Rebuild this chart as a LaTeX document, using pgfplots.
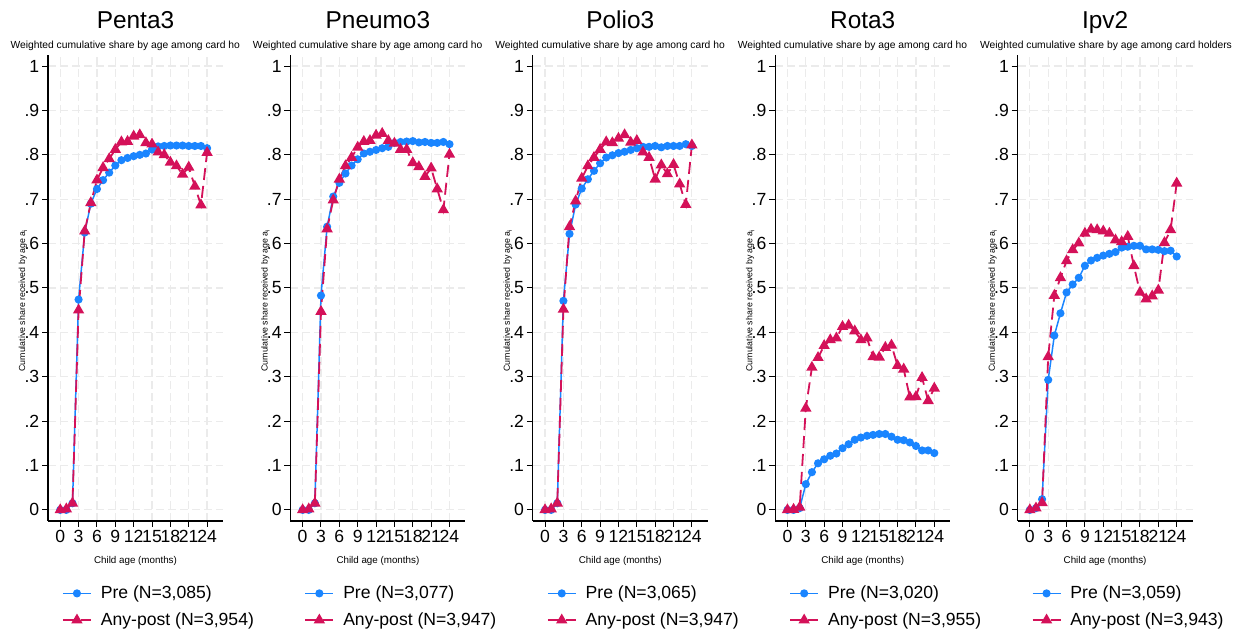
\documentclass[border=0pt]{standalone}
\usepackage{fontspec}
\setmainfont{Liberation Sans}
\usepackage{pgfplots}
\pgfplotsset{compat=1.18}
\usepackage{pgfplotstable}
\definecolor{cpre}{HTML}{1A85FF}
\definecolor{cpost}{HTML}{D41159}
\definecolor{gridc}{HTML}{EBEBEB}
\newcommand\titsz{\fontsize{12.2}{14}\selectfont}
\newcommand\subsz{\fontsize{5.15}{6}\selectfont}
\newcommand\ticksz{\fontsize{8.8}{10}\selectfont}
\newcommand\axlab{\fontsize{4.9}{6}\selectfont}
\newcommand\ylab{\fontsize{4.4}{5}\selectfont}
\newcommand\legsz{\fontsize{8.8}{10}\selectfont}

\pgfplotstableread{
m pre post
0 0 0
1 0 0.002
2 0.015 0.015
3 0.474 0.450
4 0.625 0.628
5 0.690 0.692
6 0.723 0.743
7 0.743 0.771
8 0.760 0.791
9 0.776 0.812
10 0.788 0.829
11 0.793 0.830
12 0.797 0.842
13 0.800 0.845
14 0.803 0.827
15 0.812 0.824
16 0.819 0.806
17 0.820 0.800
18 0.821 0.783
19 0.821 0.775
20 0.821 0.756
21 0.820 0.772
22 0.820 0.729
23 0.820 0.687
24 0.815 0.805
}\penta

\pgfplotstableread{
m pre post
0 0 0
1 0 0.002
2 0.015 0.015
3 0.483 0.447
4 0.638 0.633
5 0.706 0.698
6 0.737 0.745
7 0.758 0.775
8 0.776 0.794
9 0.790 0.817
10 0.803 0.830
11 0.807 0.832
12 0.811 0.844
13 0.815 0.848
14 0.818 0.832
15 0.827 0.826
16 0.829 0.812
17 0.830 0.812
18 0.831 0.782
19 0.828 0.773
20 0.829 0.751
21 0.827 0.770
22 0.827 0.723
23 0.829 0.676
24 0.824 0.801
}\pneumo

\pgfplotstableread{
m pre post
0 0 0
1 0 0.002
2 0.015 0.015
3 0.471 0.452
4 0.622 0.638
5 0.688 0.696
6 0.724 0.747
7 0.745 0.775
8 0.764 0.794
9 0.781 0.812
10 0.794 0.829
11 0.799 0.827
12 0.804 0.837
13 0.807 0.845
14 0.811 0.828
15 0.815 0.832
16 0.818 0.806
17 0.818 0.794
18 0.820 0.745
19 0.817 0.777
20 0.820 0.757
21 0.820 0.778
22 0.820 0.734
23 0.824 0.688
24 0.820 0.822
}\polio

\pgfplotstableread{
m pre post
0 0 0
1 0 0.001
2 0.004 0.006
3 0.058 0.229
4 0.085 0.321
5 0.105 0.343
6 0.114 0.370
7 0.122 0.383
8 0.127 0.387
9 0.139 0.413
10 0.148 0.416
11 0.158 0.403
12 0.163 0.383
13 0.167 0.387
14 0.169 0.345
15 0.171 0.344
16 0.171 0.366
17 0.165 0.371
18 0.158 0.325
19 0.157 0.317
20 0.152 0.254
21 0.144 0.255
22 0.134 0.298
23 0.134 0.246
24 0.128 0.274
}\rota

\pgfplotstableread{
m pre post
0 0 0
1 0.004 0.004
2 0.024 0.016
3 0.293 0.345
4 0.393 0.483
5 0.443 0.523
6 0.490 0.561
7 0.508 0.586
8 0.523 0.601
9 0.550 0.623
10 0.562 0.632
11 0.568 0.631
12 0.573 0.628
13 0.577 0.623
14 0.581 0.608
15 0.591 0.604
16 0.593 0.616
17 0.595 0.550
18 0.595 0.490
19 0.587 0.475
20 0.587 0.482
21 0.586 0.495
22 0.583 0.602
23 0.584 0.631
24 0.571 0.736
}\ipv

\pgfplotsset{
  panel/.style={
    scale only axis, width=87.5pt, height=233pt,
    anchor=south west,
    xmin=-2, xmax=26.6, ymin=-0.025, ymax=1.025,
    axis x line*=bottom, axis y line*=left,
    axis line style={line width=0.6pt, -},
    xtick={0,3,6,9,12,15,18,21,24},
    ytick={0,0.1,0.2,0.3,0.4,0.5,0.6,0.7,0.8,0.9,1},
    yticklabels={0,.1,.2,.3,.4,.5,.6,.7,.8,.9,1},
    tick align=outside, major tick length=3pt,
    tick style={black, line width=0.5pt},
    grid=major,
    major grid style={gridc, line width=0.6pt, dash pattern=on 4pt off 2pt},
    ticklabel style={font=\ticksz},
    xticklabel style={yshift=-0.3pt, inner sep=1pt},
    yticklabel style={inner sep=1.2pt},
    /pgf/number format/assume math mode=true,
    xlabel={Child age (months)},
    ylabel={Cumulative share received by age a\textsubscript{i}},
    xlabel style={font=\axlab, at={(axis description cs:0.5,-0.086)}, anchor=center},
    ylabel style={font=\ylab, at={(axis description cs:-0.143,0.474)}, anchor=center},
    legend style={draw=none, fill=none, font=\legsz,
      at={(axis description cs:0.078,-0.129)}, anchor=north west,
      inner sep=0pt, row sep=1.5pt, column sep=2.5pt, cells={anchor=west}},
    legend image code/.code={\draw[mark repeat=2, mark phase=2, #1] plot coordinates {(0pt,0pt) (7pt,0pt) (14pt,0pt)};},
    clip=false,
  },
  pre/.style={cpre, line width=0.75pt, mark=*, mark size=1.65pt, mark options={solid}},
  post/.style={cpost, line width=0.9pt, dash pattern=on 6pt off 3pt, mark=triangle*, mark size=2.4pt, mark options={solid}},
}

\newcommand\paneltitle[3]{%
  \node[font=\titsz, anchor=base] at ([yshift=13.3pt]#1.north) {#2};
  \node[font=\subsz, anchor=base west] at ([xshift=-66pt, yshift=3.2pt]#1.north) {#3};
}

\begin{document}
\begin{tikzpicture}
\useasboundingbox (0,0) rectangle (620.5pt,317.5pt);

\begin{axis}[panel, name=a1, at={(24pt,57pt)}]
\addplot[pre] table[x=m, y=pre] {\penta};
\addlegendentry{Pre (N=3,085)}
\addplot[post] table[x=m, y=post] {\penta};
\addlegendentry{Any-post (N=3,954)}
\end{axis}
\paneltitle{a1}{Penta3}{Weighted cumulative share by age among card ho}

\begin{axis}[panel, name=a2, at={(145.2pt,57pt)}]
\addplot[pre] table[x=m, y=pre] {\pneumo};
\addlegendentry{Pre (N=3,077)}
\addplot[post] table[x=m, y=post] {\pneumo};
\addlegendentry{Any-post (N=3,947)}
\end{axis}
\paneltitle{a2}{Pneumo3}{Weighted cumulative share by age among card ho}

\begin{axis}[panel, name=a3, at={(266.4pt,57pt)}]
\addplot[pre] table[x=m, y=pre] {\polio};
\addlegendentry{Pre (N=3,065)}
\addplot[post] table[x=m, y=post] {\polio};
\addlegendentry{Any-post (N=3,947)}
\end{axis}
\paneltitle{a3}{Polio3}{Weighted cumulative share by age among card ho}

\begin{axis}[panel, name=a4, at={(387.6pt,57pt)}]
\addplot[pre] table[x=m, y=pre] {\rota};
\addlegendentry{Pre (N=3,020)}
\addplot[post] table[x=m, y=post] {\rota};
\addlegendentry{Any-post (N=3,955)}
\end{axis}
\paneltitle{a4}{Rota3}{Weighted cumulative share by age among card ho}

\begin{axis}[panel, name=a5, at={(508.8pt,57pt)}]
\addplot[pre] table[x=m, y=pre] {\ipv};
\addlegendentry{Pre (N=3,059)}
\addplot[post] table[x=m, y=post] {\ipv};
\addlegendentry{Any-post (N=3,943)}
\end{axis}
\paneltitle{a5}{Ipv2}{Weighted cumulative share by age among card holders}
\end{tikzpicture}
\end{document}
